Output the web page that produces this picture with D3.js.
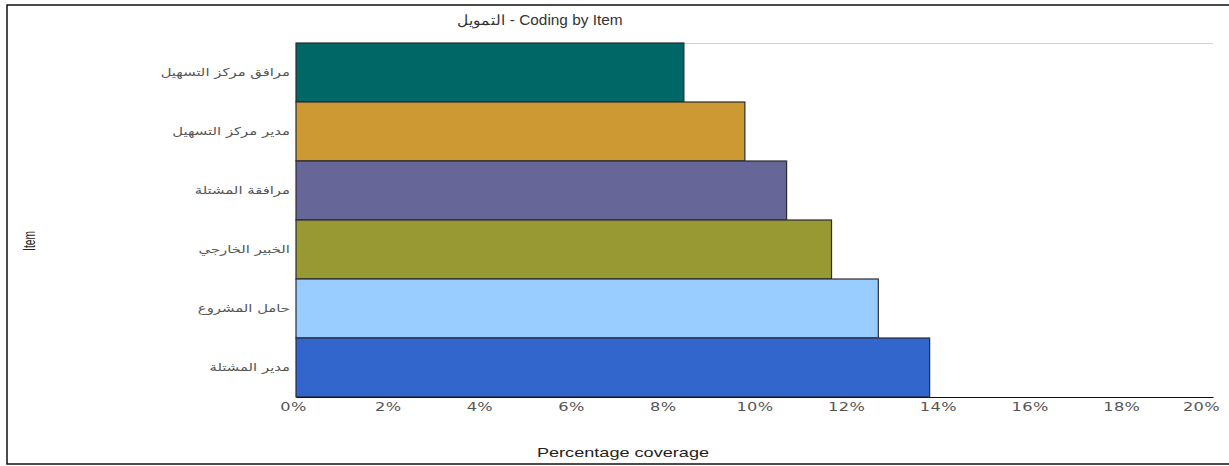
<!DOCTYPE html>
<html><head><meta charset="utf-8">
<script src="https://cdn.jsdelivr.net/npm/d3@7"></script>
<style>body{margin:0;background:#fff}svg{display:block}</style>
</head><body>
<svg id="c" width="1229" height="466"></svg>
<script>
const categories = ["مرافق مركز التسهيل","مدير مركز التسهيل","مرافقة المشتلة","الخبير الخارجي","حامل المشروع","مدير المشتلة"];
const values = [0.0846, 0.0979, 0.107, 0.1168, 0.127, 0.1382];
const colors = ["#006666","#CC9933","#666699","#999933","#99CCFF","#3366CC"];
const ticks = [0,0.02,0.04,0.06,0.08,0.10,0.12,0.14,0.16,0.18,0.20];
const title = "التمويل - Coding by Item";
const xTitle = "Percentage coverage";
const yTitle = "Item";

(function(){
const svg = d3.select("#c");
const mLeft = 296, mRight = 1213, mTop = 43, mBottom = 397;
const x = d3.scaleLinear().domain([0,0.20]).range([mLeft,mRight]);
const y = d3.scaleBand().domain(categories).range([mTop,mBottom]).padding(0);

// outer frame
svg.append("rect").attr("x",7).attr("y",5).attr("width",1240).attr("height",459)
  .attr("fill","none").attr("stroke","#111").attr("stroke-width",1.5);

// top gridline
svg.append("line").attr("x1",mLeft).attr("x2",mRight).attr("y1",mTop+0.5).attr("y2",mTop+0.5)
  .attr("stroke","#d0d0d0").attr("stroke-width",1);

// bars
svg.append("g").selectAll("rect").data(categories).join("rect")
  .attr("x",x(0)).attr("y",d=>y(d))
  .attr("width",(d,i)=>x(values[i])-x(0)).attr("height",y.bandwidth())
  .attr("fill",(d,i)=>colors[i]).attr("stroke","#2a2a33").attr("stroke-width",1.2);

// x axis
const xa = svg.append("g").attr("transform",`translate(0,${mBottom})`)
  .call(d3.axisBottom(x).tickValues(ticks).tickSize(0).tickFormat(d=>Math.round(d*100)+"%"));
xa.select(".domain").attr("stroke","#111").attr("stroke-width",1.2);
xa.selectAll("text").attr("fill","#555").attr("font-family","DejaVu Sans, Verdana, sans-serif")
  .attr("font-size",12).attr("dy",0).attr("y",14)
  .attr("transform",function(d){ const off = d===0.20?-12:(d===0?-3:0); return `translate(${off},0) scale(1.35,1)`; })
  .attr("letter-spacing",0.3);

// y labels
svg.append("g").selectAll("text").data(categories).join("text")
  .attr("transform",d=>`translate(290,${y(d)+y.bandwidth()/2}) scale(1.35,1)`).attr("dy","0.35em")
  .attr("text-anchor","end")
  .attr("font-family","DejaVu Sans, sans-serif").attr("font-size",11).attr("fill","#555")
  .text(d=>d);

// title
svg.append("text").attr("x",540).attr("y",25).attr("text-anchor","middle")
  .attr("font-family","Liberation Sans, Arial, sans-serif").attr("font-size",14).attr("fill","#333")
  .attr("transform","translate(540,0) scale(1.1,1) translate(-540,0)")
  .text(title);

// x title
svg.append("text").attr("x",623).attr("y",457).attr("text-anchor","middle")
  .attr("font-family","Liberation Sans, Arial, sans-serif").attr("font-size",12.5).attr("fill","#222")
  .attr("transform","translate(623,0) scale(1.45,1) translate(-623,0)")
  .text(xTitle);

// y title
svg.append("text").attr("transform","translate(35,241) rotate(-90) scale(0.85,1.4)")
  .attr("text-anchor","middle").attr("font-family","Liberation Sans, Arial, sans-serif")
  .attr("font-size",12).attr("fill","#222").text(yTitle);
})();
</script>
</body></html>
